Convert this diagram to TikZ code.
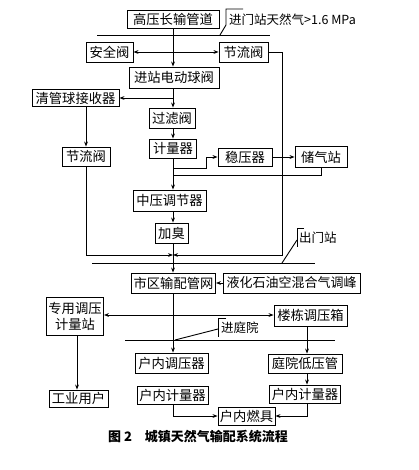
\documentclass[tikz,border=0pt]{standalone}
\usepackage{fontspec}
\newfontfamily\cjk{Noto Sans CJK SC}
\usetikzlibrary{arrows.meta}
\begin{document}
\begin{tikzpicture}[x=1pt,y=-1pt,
 box/.style={draw,line width=0.9pt,inner sep=0pt,font=\cjk\fontsize{13.3}{16}\selectfont,align=center},
 ln/.style={line width=0.9pt},
 arr/.style={line width=0.9pt,-{Stealth[length=5pt,width=3.8pt]}},
 lbl/.style={font=\cjk\fontsize{12.5}{14}\selectfont,inner sep=0pt,anchor=west}]
\fill[white] (0,0) rectangle (418,470);
\useasboundingbox (0,0) rectangle (418,470);
% nodes
\node[box,minimum width=92pt,minimum height=18pt] (gy) at (173,19) {高压长输管道};
\node[box,minimum width=47pt,minimum height=20pt] (aq) at (109.5,52) {安全阀};
\node[box,minimum width=49pt,minimum height=20pt] (jl1) at (243.5,52) {节流阀};
\node[box,minimum width=90pt,minimum height=21pt] (dd) at (174,77.5) {进站电动球阀};
\node[box,minimum width=87pt,minimum height=17pt] (qg) at (75.5,98) {清管球接收器};
\node[box,minimum width=46pt,minimum height=20pt] (gl) at (172,118) {过滤阀};
\node[box,minimum width=48pt,minimum height=19pt] (jl2) at (86,156.5) {节流阀};
\node[box,minimum width=47pt,minimum height=19pt] (jlq) at (173,148.5) {计量器};
\node[box,minimum width=54pt,minimum height=18pt] (wy) at (245,157) {稳压器};
\node[box,minimum width=52pt,minimum height=21pt] (cq) at (321,157) {储气站};
\node[box,minimum width=73pt,minimum height=21pt] (zy) at (169.5,200.5) {中压调节器};
\node[box,minimum width=33pt,minimum height=20pt] (jc) at (171.5,233) {加臭};
\node[box,minimum width=84pt,minimum height=20pt] (sq) at (173.5,283) {市区输配管网};
\node[box,minimum width=137pt,minimum height=20pt,font=\cjk\fontsize{13}{16}\selectfont] (yh) at (291.5,283) {液化石油空混合气调峰};
\node[box,minimum width=57pt,minimum height=38pt] (zyt) at (75,316) {专用调压\\计量站};
\node[box,minimum width=73pt,minimum height=21pt] (ld) at (310.5,315.5) {楼栋调压箱};
\node[box,minimum width=73pt,minimum height=20pt] (hnt) at (171.5,363) {户内调压器};
\node[box,minimum width=74pt,minimum height=19pt] (tyd) at (305,363.5) {庭院低压管};
\node[box,minimum width=71pt,minimum height=18pt] (hnj1) at (172.5,395) {户内计量器};
\node[box,minimum width=71pt,minimum height=18pt] (hnj2) at (305,394) {户内计量器};
\node[box,minimum width=57pt,minimum height=18pt] (rj) at (246.5,416) {户内燃具};
\node[box,minimum width=59pt,minimum height=17pt] (gy2) at (78.5,398.5) {工业用户};
% helper coordinates
\coordinate (mx) at (173,0);
\coordinate (rx) at (282,0);
\coordinate (lx) at (307,0);
\coordinate (gx) at (77,0);
\coordinate (j) at (173,255);
\coordinate (b1) at (173,168);
\coordinate (b1x) at (206,168);
\coordinate (b2) at (173,175);
\coordinate (b3) at (173,315);
% threshold lines
\draw[ln] (97,35) -- (270,35);
\draw[ln] (92,263) -- (315,263);
\draw[ln] (125,340) -- (335,340);
% connectors
\draw[arr] (gy.south -| mx) -- (dd.north -| mx);
\draw[arr] (aq.east -| mx) -- (aq.east);
\draw[arr] (aq.east -| mx) -- (jl1.west);
\draw[arr] (jl1.east) -- (jl1.east -| rx) -- (rx |- j) -- (j);
\draw[arr] (dd.south -| mx) -- (gl.north -| mx);
\draw[arr] (qg.east -| mx) -- (qg.east);
\draw[arr] (qg.south -| jl2.north) -- (jl2.north);
\draw[arr] (jl2.south) -- (jl2.south |- j) -- (j);
\draw[arr] (gl.south -| mx) -- (jlq.north -| mx);
\draw[arr] (jlq.south -| mx) -- (zy.north -| mx);
\draw[arr] (b1) -- (b1x) -- (b1x |- wy.west) -- (wy.west);
\draw[arr] (wy.east) -- (cq.west);
\draw[ln] (cq.south) -- (cq.south |- b2) -- (b2);
\draw[arr] (zy.south -| mx) -- (jc.north -| mx);
\draw[arr] (jc.south -| mx) -- (sq.north -| mx);
\draw[arr] (yh.west) -- (sq.east);
\draw[arr] (b3) -- (zyt.east |- b3);
\draw[arr] (b3) -- (ld.west |- b3);
\draw[arr] (sq.south -| mx) -- (hnt.north -| mx);
\draw[arr] (ld.south -| lx) -- (tyd.north -| lx);
\draw[arr] (tyd.south -| lx) -- (hnj2.north -| lx);
\draw[arr] (hnj1.south -| mx) -- (mx |- rj.west) -- (rj.west);
\draw[arr] (hnj2.south -| lx) -- (lx |- rj.east) -- (rj.east);
\draw[arr] (zyt.south -| gx) -- (gy2.north -| gx);
% labels with brackets
\node[lbl] (l1) at (229,20) {进门站天然气>1.6 MPa};
\draw[ln] (243,9) -- (226,9) -- (226,25) -- (220,35);
\node[lbl] (l2) at (299,238) {出门站};
\draw[ln] (304,228) -- (297,228) -- (297,247);
\draw[ln] (297,240) -- (282,263);
\node[lbl] (l3) at (221,328) {进庭院};
\draw[ln] (226,318) -- (218,318) -- (218,337);
\draw[ln] (218,329) -- (175,340);
% caption
\node[font=\cjk\bfseries\fontsize{13}{15}\selectfont,inner sep=0pt] (cap) at (198,437) {图 2\quad 城镇天然气输配系统流程};
\end{tikzpicture}
\end{document}
